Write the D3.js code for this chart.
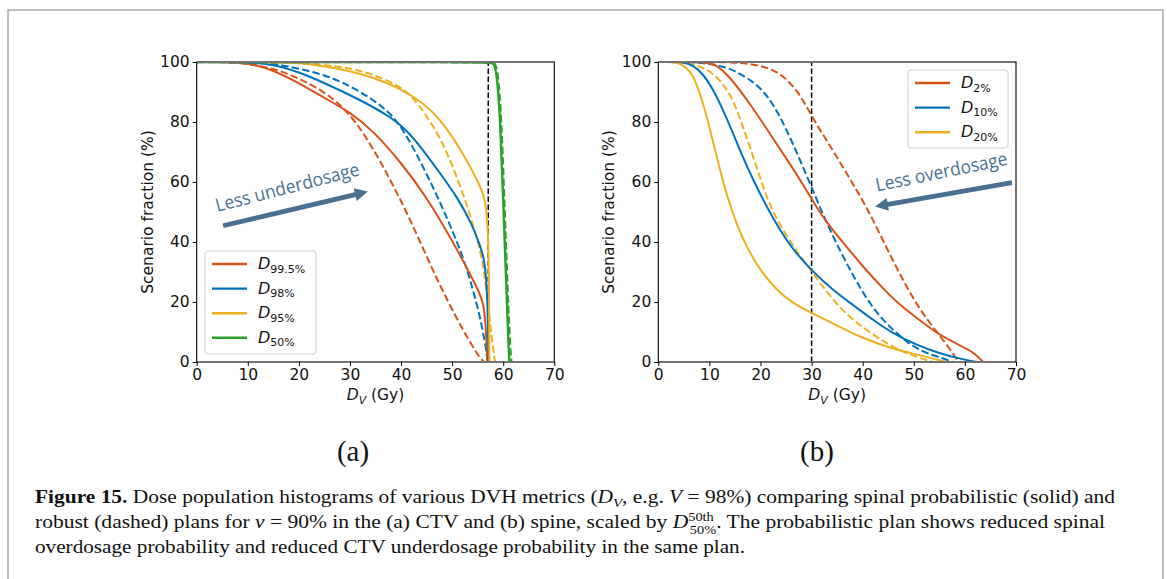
<!DOCTYPE html>
<html>
<head>
<meta charset="utf-8">
<script src="https://cdn.jsdelivr.net/npm/d3@7"></script>
<style>
  body { margin: 0; background: #fff; }
  svg { display: block; }
</style>
</head>
<body>
<svg id="fig" width="1167" height="579"></svg>
<script>
// panel (a): CTV, [dose Gy, scenario fraction %]
var aRedSolid = [[0,100],[5,100],[9.8,99.8],[15,97.3],[20,93],[25,88],[30,83.3],[34.6,77],[40,66.5],[45,55],[50,40.5],[53,31],[55.4,23],[56.1,19.5],[56.5,14],[56.75,6],[56.85,0],[56.85,0]];
var aRedDash = [[0,100],[8,100],[15,98],[20.2,94.5],[25,90],[28.4,85.3],[31.3,79.7],[34.6,71],[37.8,61],[41.1,50],[44.4,37.5],[47.6,25.5],[50.9,14.5],[53.2,7.5],[54.8,3],[55.6,1],[56.3,0],[56.3,0]];
var aBlueSolid = [[0,100],[8,100],[15,99.4],[20.2,96.5],[25,93],[30,89],[34.6,85],[38,81.5],[41.1,77.4],[44.4,70.5],[47.6,63],[51,55],[54.1,45.2],[55.4,39],[56.2,35],[56.7,28],[57,15],[57.1,5],[57.15,0],[57.15,0]];
var aBlueDash = [[0,100],[10,100],[15,99.7],[25,96],[30,92],[34.6,87.5],[38.5,82],[41.1,75.5],[45,63],[48.9,48.5],[52.2,35],[54.1,24],[55.4,15.5],[56.4,7],[56.8,2],[57,0],[57,0]];
var aYellowSolid = [[0,100],[15,100],[20.2,99.7],[25,98.6],[30,97],[34.6,94.8],[39.8,91.3],[44.4,86.3],[47.6,81],[50.9,73],[53.5,65.3],[55.4,58.8],[56.1,56],[56.7,51.5],[57.1,42],[57.25,20],[57.3,0],[57.3,0]];
var aYellowDash = [[0,100],[18,100],[25,99],[30,98],[34.6,95.8],[39.8,92],[42.7,87.5],[45,82],[47.6,75],[50.2,65],[52.8,53],[54.1,45.5],[55.4,38],[56.2,31],[57.2,17],[57.9,6],[58.4,0],[58.4,0]];
var aGreenSolid = [[0,100],[57.5,100],[58.1,99.7],[58.7,97],[59.4,82],[60,54],[60.7,21],[61.1,3],[61.2,0],[61.2,0]];
var aGreenDash = [[0,100],[57.7,100],[58.3,99.7],[58.9,97.5],[59.6,82],[60.2,54],[60.9,21],[61.4,3],[61.6,0],[61.6,0]];

// panel (b): spine
var bRedSolid = [[1.5,100],[9.5,100],[11.4,98.9],[13.4,96],[16,90.6],[18.6,84.4],[21.2,77.8],[23.8,71],[26.4,64.4],[29,57.2],[30.3,53.5],[32.9,46.5],[36.9,38.3],[40.1,31.7],[44,24.4],[47.3,18.9],[51.2,13.9],[54.5,9.6],[57.7,6.7],[61,3.9],[62.3,2.2],[63.6,0]];
var bRedDash = [[1.5,100],[14.7,100],[17.9,99.4],[21.2,98.3],[24.5,95.6],[27.7,89.4],[30.3,81],[32.9,74],[35.6,66.5],[38.2,59],[40.8,51.5],[43.4,42.5],[46,33.5],[48.6,25],[51.2,17.5],[53.8,11.5],[55.8,7.2],[57.7,2.8],[58.7,0]];
var bBlueSolid = [[1.5,100],[4.9,100],[6.8,98.9],[8.8,96],[10.8,90.6],[12.7,83.9],[14.7,76],[16.6,68],[18.6,60.6],[21.2,51.7],[23.8,44],[26.4,37.3],[30.3,30],[34.2,23.9],[38.2,18.9],[42.1,13.9],[46,9.4],[50.6,5.6],[55.1,2.8],[59,1.1],[62.3,0]];
var bBlueDash = [[1.5,100],[6.8,100],[10.1,99.4],[13.4,98.3],[16.6,95.6],[19.9,91.7],[22.5,86],[25.1,77.5],[27.7,67.5],[30.3,57],[32.9,46.5],[35.6,37],[38.2,28.5],[40.8,21],[43.4,15],[46,10.6],[48.6,6.7],[51.2,3.9],[53.8,2.2],[56.4,0.8],[57.7,0]];
var bYellowSolid = [[1.5,100],[3.6,100],[5.5,98.3],[6.8,95.6],[8.2,89.4],[9.5,81.7],[10.8,72.8],[12.1,63.9],[13.4,55.5],[15.3,46],[17.3,38.3],[19.9,30.6],[23.2,23.9],[26.4,19.4],[30.3,16.1],[34.2,12.8],[39.5,8.3],[44.7,5],[49.9,2.8],[53.8,1.1],[56.4,0]];
var bYellowDash = [[1.5,100],[4,100],[7.5,98.9],[10.1,97.2],[12.7,92.8],[14.7,87.2],[16.6,78.3],[18.6,68.3],[20.5,58.3],[22.5,49.6],[25.1,42],[27.7,35.5],[30.3,29.5],[32.9,23.5],[35.6,18],[38.2,13.9],[40.8,10.6],[44.7,6.1],[48.6,2.8],[52.5,0.6],[53.8,0]];

var xTicks = [0, 10, 20, 30, 40, 50, 60, 70];
var yTicks = [0, 20, 40, 60, 80, 100];
var aLegend = ["99.5%", "98%", "95%", "50%"];
var bLegend = ["2%", "10%", "20%"];
var aRefDose = 57.07;
var bRefDose = 30;

var RED = "#d95319", BLUE = "#0072bd", YELLOW = "#edb120", GREEN = "#2ca02c";
var ARROW = "#4a7091";

var svg = d3.select("#fig");

svg.append("rect").attr("x", 0).attr("y", 0).attr("width", 1167).attr("height", 579).attr("fill", "#fff");
// figure frame
svg.append("path")
  .attr("d", "M8,590 L8,10 L1163,10 L1163,590")
  .attr("fill", "none").attr("stroke", "#a8a8a8").attr("stroke-width", 1.5);

var tickFont = "'DejaVu Sans', sans-serif";
var defs = svg.append("defs");

function drawPanel(opts) {
  var x = d3.scaleLinear().domain([0, 70]).range([opts.left, opts.right]);
  var y = d3.scaleLinear().domain([0, 100]).range([362, 62]);
  var g = svg.append("g");

  // clip a hair inside the frame so lines sitting at 0/100 hide under the spines
  defs.append("clipPath").attr("id", opts.id)
    .append("rect")
    .attr("x", opts.left).attr("y", 63)
    .attr("width", opts.right - opts.left).attr("height", 298);

  var line = d3.line()
    .x(function(d) { return x(d[0]); })
    .y(function(d) { return y(d[1]); })
    .curve(d3.curveBasis);

  var plot = g.append("g").attr("clip-path", "url(#" + opts.id + ")");

  // reference dose line
  plot.append("line")
    .attr("x1", x(opts.ref)).attr("x2", x(opts.ref))
    .attr("y1", y(0)).attr("y2", y(100))
    .attr("stroke", "#000").attr("stroke-width", 1.5)
    .attr("stroke-dasharray", "5.5,2.5");

  opts.series.forEach(function(s) {
    plot.append("path")
      .datum(s.data)
      .attr("d", line)
      .attr("fill", "none")
      .attr("stroke", s.color)
      .attr("stroke-width", s.width || 2)
      .attr("stroke-dasharray", s.dash ? "7.4,3.2" : null);
  });

  // axes
  var xAxis = d3.axisBottom(x).tickValues(xTicks).tickSize(4).tickPadding(3);
  var yAxis = d3.axisLeft(y).tickValues(yTicks).tickSize(4).tickPadding(3);
  var gx = g.append("g").attr("transform", "translate(0,362)").call(xAxis);
  var gy = g.append("g").attr("transform", "translate(" + opts.left + ",0)").call(yAxis);
  [gx, gy].forEach(function(ax) {
    ax.selectAll("text").attr("font-family", tickFont).attr("font-size", 15.5).attr("fill", "#111");
    ax.selectAll("line").attr("stroke", "#000").attr("stroke-width", 1);
    ax.select(".domain").remove();
  });
  g.append("rect")
    .attr("x", opts.left).attr("y", 62)
    .attr("width", opts.right - opts.left).attr("height", 300)
    .attr("fill", "none").attr("stroke", "#000").attr("stroke-width", 1.1);

  // axis labels
  var xl = g.append("text")
    .attr("x", (opts.left + opts.right) / 2).attr("y", 400)
    .attr("text-anchor", "middle")
    .attr("font-family", tickFont).attr("font-size", 15.5).attr("fill", "#111");
  xl.append("tspan").attr("font-style", "italic").text("D");
  xl.append("tspan").attr("font-style", "italic").attr("font-size", 10.9).attr("dy", 3.5).text("V");
  xl.append("tspan").attr("dy", -3.5).text(" (Gy)");

  g.append("text")
    .attr("transform", "translate(" + (opts.left - 44) + ",212) rotate(-90)")
    .attr("text-anchor", "middle")
    .attr("font-family", tickFont).attr("font-size", 15.5).attr("fill", "#111")
    .text("Scenario fraction (%)");

  // legend
  var lg = opts.legend;
  g.append("rect")
    .attr("x", lg.x).attr("y", lg.y).attr("width", lg.w).attr("height", lg.h)
    .attr("rx", 3).attr("fill", "#fff").attr("fill-opacity", 0.85)
    .attr("stroke", "#d0d0d0").attr("stroke-width", 1);
  lg.labels.forEach(function(lab, i) {
    var cy = lg.y + 13 + i * 24.6;
    g.append("line")
      .attr("x1", lg.x + 7).attr("x2", lg.x + 42)
      .attr("y1", cy).attr("y2", cy)
      .attr("stroke", lg.colors[i]).attr("stroke-width", 2.4);
    var t = g.append("text")
      .attr("x", lg.x + 53).attr("y", cy + 5)
      .attr("font-family", tickFont).attr("font-size", 16).attr("fill", "#111");
    t.append("tspan").attr("font-style", "italic").text("D");
    t.append("tspan").attr("font-size", 11).attr("dy", 3.5).text(lab);
  });

  // annotation arrow
  var an = opts.arrow;
  var p0 = [x(an.from[0]), y(an.from[1])], p1 = [x(an.to[0]), y(an.to[1])];
  var dx = p1[0] - p0[0], dy = p1[1] - p0[1], len = Math.sqrt(dx * dx + dy * dy);
  var ux = dx / len, uy = dy / len, nx = -uy, ny = ux;
  var hw = 2.4, headW = 6.5, headL = 13;
  var bx = p1[0] - ux * headL, by = p1[1] - uy * headL;
  var pts = [
    [p0[0] + nx * hw, p0[1] + ny * hw],
    [bx + nx * hw, by + ny * hw],
    [bx + nx * headW, by + ny * headW],
    p1,
    [bx - nx * headW, by - ny * headW],
    [bx - nx * hw, by - ny * hw],
    [p0[0] - nx * hw, p0[1] - ny * hw]
  ];
  g.append("path")
    .attr("d", "M" + pts.map(function(p) { return p[0].toFixed(1) + "," + p[1].toFixed(1); }).join("L") + "Z")
    .attr("fill", ARROW);
  g.append("text")
    .attr("transform", "translate(" + x(an.textAt[0]) + "," + y(an.textAt[1]) + ") rotate(" + an.angle + ")")
    .attr("font-family", "'Open Sans', sans-serif").attr("font-size", 18.5)
    .attr("textLength", an.textLen).attr("lengthAdjust", "spacingAndGlyphs")
    .attr("fill", ARROW)
    .text(an.text);
}

drawPanel({
  id: "clipA", left: 196.7, right: 554.3, ref: aRefDose,
  series: [
    { data: aRedDash, color: RED, dash: true },
    { data: aBlueDash, color: BLUE, dash: true },
    { data: aYellowDash, color: YELLOW, dash: true },
    { data: aRedSolid, color: RED },
    { data: aBlueSolid, color: BLUE },
    { data: aYellowSolid, color: YELLOW },
    { data: aGreenDash, color: GREEN, dash: true, width: 2.4 },
    { data: aGreenSolid, color: GREEN, width: 2.4 }
  ],
  legend: { x: 205, y: 251, w: 111, h: 103, labels: aLegend, colors: [RED, BLUE, YELLOW, GREEN] },
  arrow: { from: [5.15, 45.4], to: [33.5, 56.8], textAt: [4.0, 50], angle: -14.5, textLen: 148, text: "Less underdosage" }
});

drawPanel({
  id: "clipB", left: 658.3, right: 1016, ref: bRefDose,
  series: [
    { data: bRedDash, color: RED, dash: true },
    { data: bBlueDash, color: BLUE, dash: true },
    { data: bYellowDash, color: YELLOW, dash: true },
    { data: bRedSolid, color: RED },
    { data: bBlueSolid, color: BLUE },
    { data: bYellowSolid, color: YELLOW }
  ],
  legend: { x: 908, y: 70, w: 100, h: 78, labels: bLegend, colors: [RED, BLUE, YELLOW] },
  arrow: { from: [69.2, 59.8], to: [42.4, 51.8], textAt: [42.8, 56.8], angle: -11.6, textLen: 134, text: "Less overdosage" }
});

// sub-figure labels
var serif = "'Liberation Serif', 'Times New Roman', serif";
[["(a)", 353], ["(b)", 817]].forEach(function(l) {
  svg.append("text").attr("x", l[1]).attr("y", 461)
    .attr("text-anchor", "middle").attr("font-family", serif).attr("font-size", 29).attr("fill", "#111")
    .text(l[0]);
});

// caption
function richLine(yPos, width, parts) {
  var t = svg.append("text").attr("x", 35).attr("y", yPos)
    .attr("font-family", serif).attr("font-size", 18).attr("fill", "#111")
    .attr("textLength", width).attr("lengthAdjust", "spacingAndGlyphs");
  parts.forEach(function(p) {
    var s = t.append("tspan").text(p.t);
    if (p.b) s.attr("font-weight", "bold");
    if (p.i) s.attr("font-style", "italic");
    if (p.size) s.attr("font-size", p.size);
    if (p.dy) s.attr("dy", p.dy);
    if (p.dx) s.attr("dx", p.dx);
  });
}
richLine(503, 1080, [
  { t: "Figure 15.", b: true },
  { t: " Dose population histograms of various DVH metrics (" },
  { t: "D", i: true },
  { t: "V", i: true, size: 12.5, dy: 4 },
  { t: ", e.g. ", dy: -4 },
  { t: "V", i: true },
  { t: " = 98%) comparing spinal probabilistic (solid) and" }
]);
richLine(528, 1070, [
  { t: "robust (dashed) plans for " },
  { t: "ν", i: true },
  { t: " = 90% in the (a) CTV and (b) spine, scaled by " },
  { t: "D", i: true },
  { t: "50th", size: 12, dy: -7 },
  { t: "50%", size: 12, dy: 12.5, dx: -20 },
  { t: ". The probabilistic plan shows reduced spinal", dy: -5.5 }
]);
richLine(553, 710, [
  { t: "overdosage probability and reduced CTV underdosage probability in the same plan." }
]);
</script>
</body>
</html>
